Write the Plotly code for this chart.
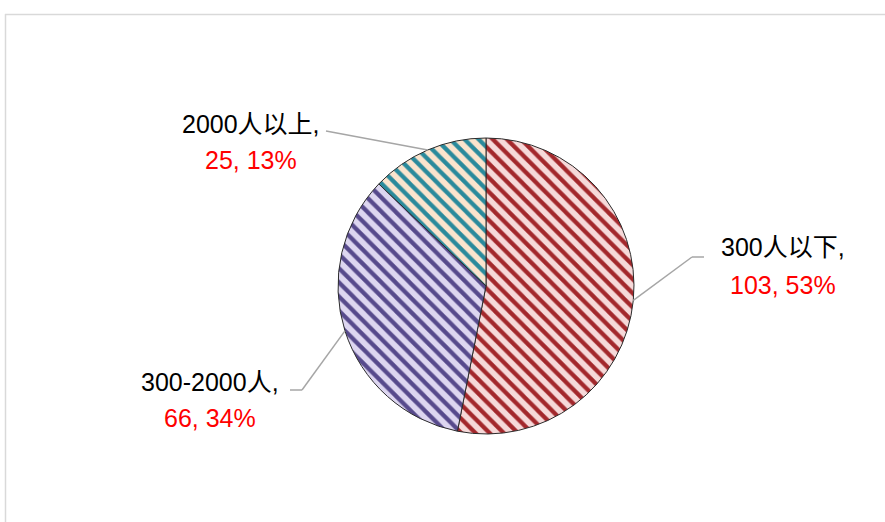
import math
import plotly.graph_objects as go

categories = ["300人以下", "300-2000人", "2000人以上"]
values = [103, 66, 25]
percent_labels = ["53%", "34%", "13%"]

stripe_colors = ["#a3282c", "#574a8c", "#2a8a9c"]
fill_colors = ["#f6d9d9", "#ddd6f0", "#fbe4cd"]

W, H = 885, 522
cx, cy, R = 486, 286, 148

fig = go.Figure()
fig.add_trace(go.Pie(
    labels=categories,
    values=values,
    sort=False,
    direction="clockwise",
    rotation=0,
    textinfo="none",
    hoverinfo="label+value+percent",
    showlegend=False,
    marker=dict(
        colors=fill_colors,
        line=dict(color="#2b2b2b", width=1),
        pattern=dict(shape="\\", fgcolor=stripe_colors, bgcolor=fill_colors,
                     size=10, solidity=0.42, fillmode="replace"),
    ),
    domain=dict(x=[(cx - 200) / W, (cx + 200) / W],
                y=[1 - (cy + R) / H, 1 - (cy - R) / H]),
))

# label layout (pixel positions of text blocks and leader elbows)
label_pos = [
    dict(x=783, y1=247, y2=285, elbow=(692, 257), end=(704, 257)),
    dict(x=210, y1=382, y2=418, elbow=(302, 390), end=(290, 390)),
    dict(x=251, y1=124, y2=160, elbow=None, end=(326, 131)),
]

total = sum(values)
cum = 0
shapes = []
annotations = []
for i, v in enumerate(values):
    mid = (cum + v / 2) / total * 2 * math.pi
    cum += v
    ax = cx + R * math.sin(mid)
    ay = cy - R * math.cos(mid)
    lp = label_pos[i]
    pts = [(ax, ay)]
    if lp["elbow"]:
        pts.append(lp["elbow"])
    pts.append(lp["end"])
    for (x0, y0), (x1, y1) in zip(pts[:-1], pts[1:]):
        shapes.append(dict(type="line", xref="paper", yref="paper",
                           x0=x0 / W, y0=1 - y0 / H, x1=x1 / W, y1=1 - y1 / H,
                           line=dict(color="#a6a6a6", width=1.5)))
    annotations.append(dict(text=categories[i] + ",", x=lp["x"] / W, y=1 - lp["y1"] / H,
                            xref="paper", yref="paper", showarrow=False,
                            xanchor="center", yanchor="middle",
                            font=dict(size=25, color="#000000")))
    annotations.append(dict(text=f"{v}, {percent_labels[i]}", x=lp["x"] / W, y=1 - lp["y2"] / H,
                            xref="paper", yref="paper", showarrow=False,
                            xanchor="center", yanchor="middle",
                            font=dict(size=25, color="#ff0000")))

# outer chart border (top and left visible)
shapes.append(dict(type="line", xref="paper", yref="paper", x0=5 / W, x1=1.01,
                   y0=1 - 14.5 / H, y1=1 - 14.5 / H, line=dict(color="#d9d9d9", width=1.5)))
shapes.append(dict(type="line", xref="paper", yref="paper", x0=5.5 / W, x1=5.5 / W,
                   y0=1 - 14 / H, y1=-0.01, line=dict(color="#d9d9d9", width=1.5)))

fig.update_layout(
    width=W, height=H,
    margin=dict(l=0, r=0, t=0, b=0),
    paper_bgcolor="white",
    plot_bgcolor="white",
    font=dict(family="Liberation Sans, Noto Sans CJK SC, sans-serif"),
    shapes=shapes,
    annotations=annotations,
)

fig.write_html("out.html")
